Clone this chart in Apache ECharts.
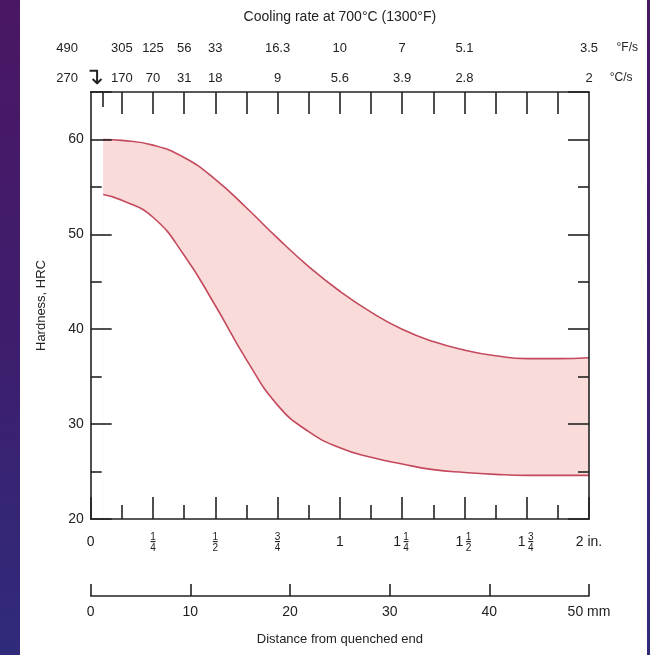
<!DOCTYPE html>
<html>
<head>
<meta charset="utf-8">
<script src="https://cdn.jsdelivr.net/npm/echarts@6/dist/echarts.min.js"></script>
<style>
html,body{margin:0;padding:0;width:650px;height:655px;overflow:hidden;}
body{background:linear-gradient(180deg,#4a1764 0%,#3f1d6e 50%,#2f2b7a 100%);position:relative;}
#paper{position:absolute;left:20px;top:0;width:627px;height:655px;background:#fff;}
#chart{position:absolute;left:0;top:0;width:650px;height:655px;}
</style>
</head>
<body>
<div id="paper"></div>
<div id="chart"></div>
<script>
// Jominy distance (inches) and hardness band (HRC)
const distIn = [0.05, 0.125, 0.25, 0.375, 0.5, 0.625, 0.75, 0.875, 1.0, 1.125, 1.25, 1.375, 1.5, 1.625, 1.75, 1.875, 2.0];
const upperHRC = [60.0, 59.9, 59.4, 58.1, 55.8, 52.8, 49.6, 46.6, 44.0, 41.8, 40.0, 38.7, 37.8, 37.2, 36.9, 36.9, 37.0];
const lowerHRC = [54.2, 53.6, 51.8, 47.8, 42.5, 36.8, 32.0, 29.2, 27.5, 26.5, 25.8, 25.2, 24.9, 24.7, 24.6, 24.6, 24.6];

// Cooling-rate scale (top)
const ratePos = [0.05, 0.125, 0.25, 0.375, 0.5, 0.75, 1.0, 1.25, 1.5, 2.0];
const rateC = ['270', '170', '70', '31', '18', '9', '5.6', '3.9', '2.8', '2'];
const rateF = ['490', '305', '125', '56', '33', '16.3', '10', '7', '5.1', '3.5'];
const rateTicks = [0.125, 0.25, 0.375, 0.5, 0.625, 0.75, 0.875, 1.0, 1.125, 1.25, 1.375, 1.5, 1.625, 1.75, 1.875];

// Bottom inch labels
const inchVals = [0, 0.25, 0.5, 0.75, 1.0, 1.25, 1.5, 1.75, 2.0];
const inchLabels = [['0'], ['', '1', '4'], ['', '1', '2'], ['', '3', '4'], ['1'], ['1', '1', '4'], ['1', '1', '2'], ['1', '3', '4'], ['2 in.']];

const FONT = '"Liberation Sans", Arial, sans-serif';
const INK = '#222';
const LINE = '#c4495c';
const FILL = '#f9dbd9';

function inchFmt(v) {
  const i = inchVals.findIndex(x => Math.abs(x - v) < 1e-6);
  if (i < 0) return '';
  const L = inchLabels[i];
  if (L.length === 1) return '{m|' + L[0] + '}';
  if (L[0] === '') return '{n|' + L[1] + '}\n{bar|\u2013}\n{d|' + L[2] + '}';
  return '{sp| }{n|' + L[1] + '}\n{w|' + L[0] + '}{bar|\u2013}\n{sp| }{d|' + L[2] + '}';
}
function rateIdx(v) { return ratePos.findIndex(x => Math.abs(x - v) < 1e-6); }
function rateFmt(arr, unit) {
  return function (v) {
    const i = rateIdx(v);
    if (i <= 0) return '';
    if (i === ratePos.length - 1) return '{sp1| }{v|' + arr[i] + '}{u|' + unit + '}';
    return '{v|' + arr[i] + '}';
  };
}
const rateRich = {
  t: {fontFamily: FONT, fontSize: 13, color: INK, width: 28, align: 'center', lineHeight: 14},
  ar: {fontFamily: '"DejaVu Sans"', fontSize: 24, color: INK, width: 26, align: 'right', lineHeight: 14},
  sp0: {width: 46, lineHeight: 14},
  sp0f: {width: 72, lineHeight: 14},
  v: {fontFamily: FONT, fontSize: 13, color: INK, lineHeight: 14, align: 'center'},
  sp1: {width: 40, lineHeight: 14},
  u: {fontFamily: FONT, fontSize: 12, color: INK, width: 40, align: 'right', lineHeight: 14}
};
const AX = {color: INK, width: 1.6};

const chart = echarts.init(document.getElementById('chart'), null, {renderer: 'canvas'});

const option = {
  backgroundColor: 'transparent',
  animation: false,
  grid: {left: 90.7, right: 61, top: 92, bottom: 136},
  xAxis: [
    { // inches (bottom)
      type: 'value', position: 'bottom', min: 0, max: 2, interval: 0.25, z: 10,
      axisLine: {show: true, onZero: false, lineStyle: AX},
      axisTick: {show: true, inside: true, length: 22, lineStyle: AX},
      minorTick: {show: true, splitNumber: 2, length: 14, lineStyle: AX},
      splitLine: {show: false}, minorSplitLine: {show: false},
      axisLabel: {
        margin: 14, formatter: inchFmt, hideOverlap: false,
        rich: {
          m: {fontFamily: FONT, fontSize: 14, color: INK, lineHeight: 18},
          n: {fontFamily: FONT, fontSize: 10, color: INK, lineHeight: 8, width: 10, align: 'center'},
          d: {fontFamily: FONT, fontSize: 10, color: INK, lineHeight: 8, width: 10, align: 'center'},
          bar: {fontFamily: FONT, fontSize: 10, fontWeight: 'bold', color: INK, lineHeight: 3, width: 10, align: 'center'},
          w: {fontFamily: FONT, fontSize: 14, color: INK, lineHeight: 3, width: 8, align: 'left'},
          sp: {width: 8, lineHeight: 8}
        }
      }
    },
    { // millimetres (bottom, offset)
      type: 'value', position: 'bottom', offset: 77, min: 0, max: 50, interval: 10, z: 10,
      axisLine: {show: true, onZero: false, lineStyle: AX},
      axisTick: {show: true, inside: true, length: 12, lineStyle: AX},
      splitLine: {show: false},
      axisLabel: {margin: 9, fontFamily: FONT, fontSize: 14, color: INK, formatter: v => v === 50 ? '50 mm' : String(v)},
      name: 'Distance from quenched end', nameLocation: 'middle', nameGap: 37,
      nameTextStyle: {fontFamily: FONT, fontSize: 13, color: INK}
    },
    { // °C/s (top frame)
      type: 'value', position: 'top', min: 0, max: 2, z: 10,
      axisLine: {show: true, onZero: false, lineStyle: AX},
      axisTick: {show: true, inside: true, length: 22, customValues: rateTicks, lineStyle: AX},
      splitLine: {show: false},
      axisLabel: {margin: 7, hideOverlap: false, customValues: ratePos.slice(1), formatter: rateFmt(rateC, '°C/s'), rich: rateRich}
    },
    { // °F/s row
      type: 'value', position: 'top', offset: 32, min: 0, max: 2, z: 10,
      axisLine: {show: false, onZero: false}, axisTick: {show: false}, splitLine: {show: false},
      axisLabel: {margin: 5, hideOverlap: false, customValues: ratePos.slice(1), formatter: rateFmt(rateF, '°F/s'), rich: rateRich},
      name: 'Cooling rate at 700°C (1300°F)', nameLocation: 'middle', nameGap: 36,
      nameTextStyle: {fontFamily: FONT, fontSize: 14, color: INK}
    },
    { // first (short) tick on top with 270 °C/s pointer
      type: 'value', position: 'top', min: 0, max: 2, z: 10,
      axisLine: {show: false, onZero: false}, splitLine: {show: false},
      axisTick: {show: true, inside: true, length: 15, customValues: [ratePos[0]], lineStyle: AX},
      axisLabel: {margin: 7, customValues: [ratePos[0]], rich: rateRich,
        formatter: () => '{t|' + rateC[0] + '}{ar|\u21B4}{sp0| }'}
    },
    { // 490 °F/s
      type: 'value', position: 'top', offset: 32, min: 0, max: 2, z: 10,
      axisLine: {show: false, onZero: false}, splitLine: {show: false}, axisTick: {show: false},
      axisLabel: {margin: 5, customValues: [ratePos[0]], rich: rateRich,
        formatter: () => '{t|' + rateF[0] + '}{sp0f| }'}
    }
  ],
  yAxis: [
    {
      type: 'value', position: 'left', min: 20, max: 65, interval: 10, z: 10,
      axisLine: {show: true, onZero: false, lineStyle: AX},
      axisTick: {show: true, inside: true, length: 21, lineStyle: AX},
      minorTick: {show: true, splitNumber: 2, length: 11, lineStyle: AX},
      splitLine: {show: false},
      axisLabel: {margin: 7, fontFamily: FONT, fontSize: 14, color: INK, formatter: v => (v % 10 === 0 ? String(v) : '')},
      name: 'Hardness, HRC', nameLocation: 'middle', nameGap: 43,
      nameTextStyle: {fontFamily: FONT, fontSize: 13, color: INK}
    },
    {
      type: 'value', position: 'right', min: 20, max: 65, interval: 10, z: 10,
      axisLine: {show: true, onZero: false, lineStyle: AX},
      axisTick: {show: true, inside: true, length: 21, lineStyle: AX},
      minorTick: {show: true, splitNumber: 2, length: 11, lineStyle: AX},
      splitLine: {show: false}, axisLabel: {show: false}
    }
  ],
  series: [
    { // maximum hardness: band filled down to the base
      type: 'line', name: 'max', xAxisIndex: 0, yAxisIndex: 0, smooth: 0.5,
      symbol: 'none', data: distIn.map((x, i) => [x, upperHRC[i]]),
      lineStyle: {color: LINE, width: 1.6},
      areaStyle: {color: FILL, opacity: 1, origin: 'start'}, z: 2
    },
    { // minimum hardness: clears the area below the band
      type: 'line', name: 'min', xAxisIndex: 0, yAxisIndex: 0, smooth: 0.5,
      symbol: 'none', data: distIn.map((x, i) => [x, lowerHRC[i]]),
      lineStyle: {color: LINE, width: 1.6},
      areaStyle: {color: '#ffffff', opacity: 1, origin: 'start'}, z: 3
    }
  ]
};
chart.setOption(option);
</script>
</body>
</html>
